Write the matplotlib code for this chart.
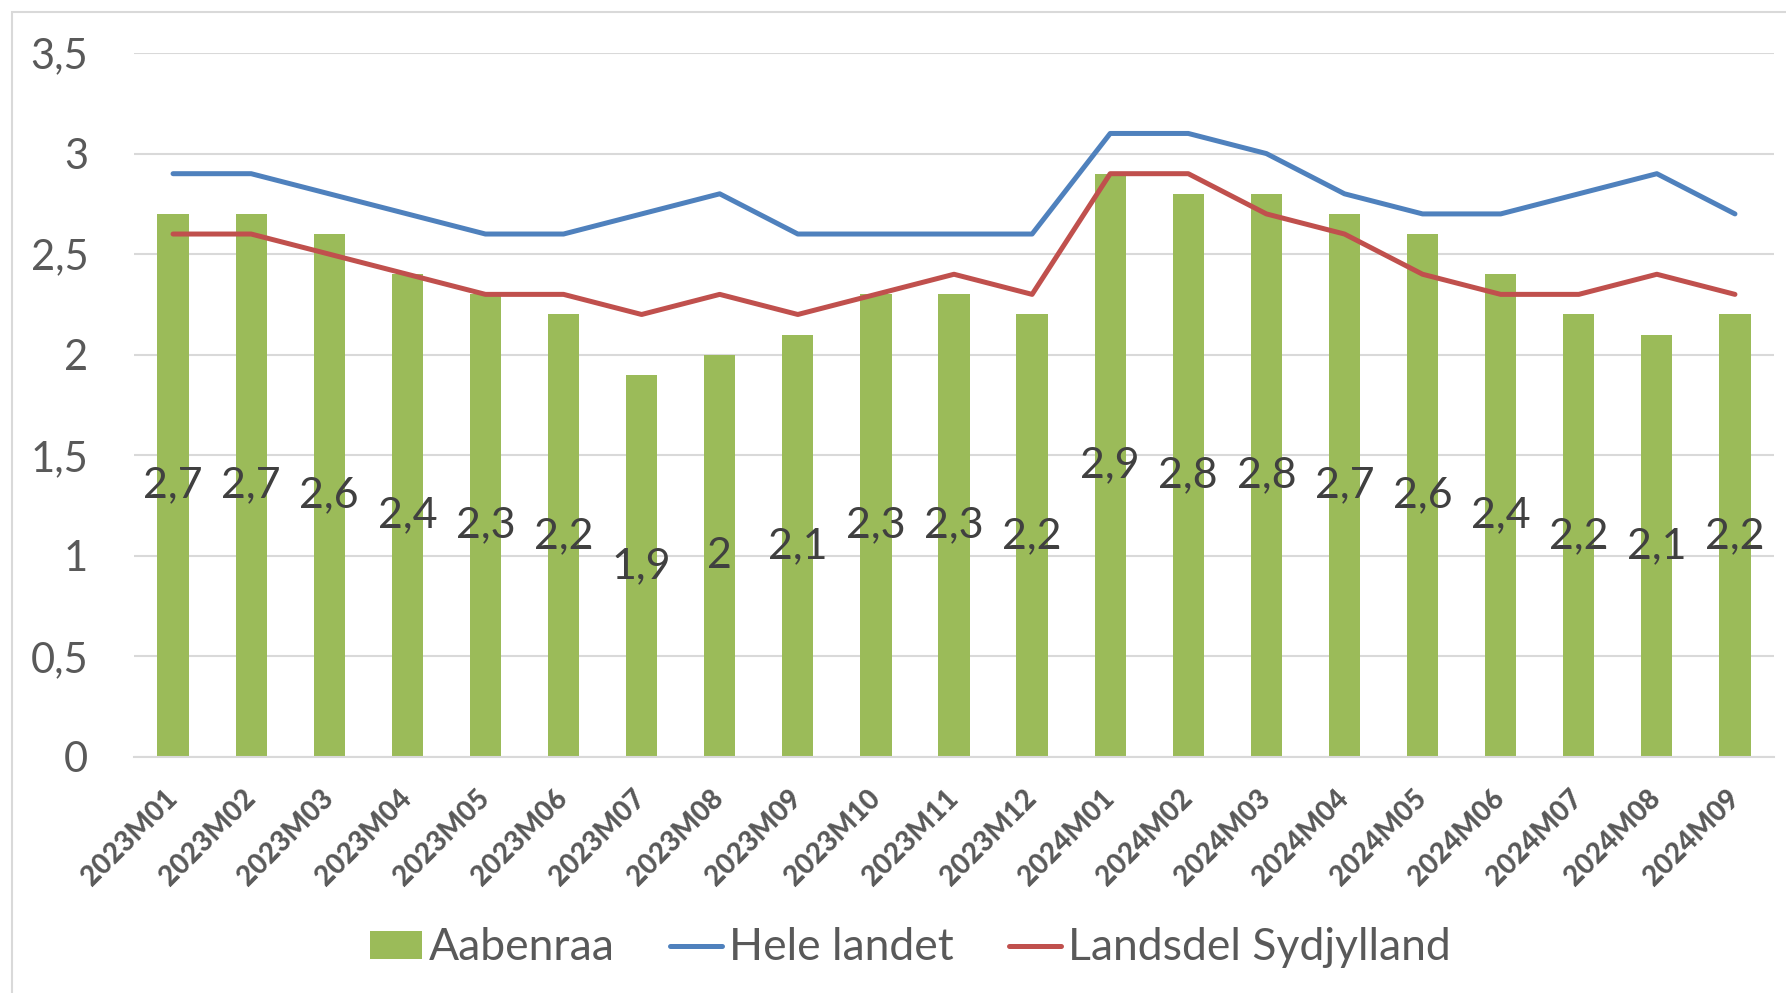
import matplotlib
matplotlib.use("Agg")
import matplotlib.pyplot as plt
from matplotlib.patches import Patch, Rectangle
from matplotlib.lines import Line2D
from matplotlib.ticker import FuncFormatter, MultipleLocator

categories = ["2023M01", "2023M02", "2023M03", "2023M04", "2023M05", "2023M06",
              "2023M07", "2023M08", "2023M09", "2023M10", "2023M11", "2023M12",
              "2024M01", "2024M02", "2024M03", "2024M04", "2024M05", "2024M06",
              "2024M07", "2024M08", "2024M09"]
aabenraa = [2.7, 2.7, 2.6, 2.4, 2.3, 2.2, 1.9, 2.0, 2.1, 2.3, 2.3, 2.2,
            2.9, 2.8, 2.8, 2.7, 2.6, 2.4, 2.2, 2.1, 2.2]
hele_landet = [2.9, 2.9, 2.8, 2.7, 2.6, 2.6, 2.7, 2.8, 2.6, 2.6, 2.6, 2.6,
               3.1, 3.1, 3.0, 2.8, 2.7, 2.7, 2.8, 2.9, 2.7]
sydjylland = [2.6, 2.6, 2.5, 2.4, 2.3, 2.3, 2.2, 2.3, 2.2, 2.3, 2.4, 2.3,
              2.9, 2.9, 2.7, 2.6, 2.4, 2.3, 2.3, 2.4, 2.3]
series_names = ["Aabenraa", "Hele landet", "Landsdel Sydjylland"]

GREEN = "#9BBB59"
BLUE = "#4F81BD"
RED = "#C0504D"
TXT = "#595959"
GRID = "#D9D9D9"

plt.rcParams["font.family"] = ["Lato", "DejaVu Sans"]

W, H = 1786, 993
fig = plt.figure(figsize=(W / 100, H / 100), dpi=100)
ax = fig.add_axes([134 / W, 1 - 757 / H, (1774 - 134) / W, (757 - 53) / H])

x = list(range(len(categories)))
ax.bar(x, aabenraa, width=0.4, color=GREEN, zorder=2)
ax.plot(x, hele_landet, color=BLUE, lw=3.6, solid_capstyle="round",
        solid_joinstyle="round", zorder=3)
ax.plot(x, sydjylland, color=RED, lw=3.6, solid_capstyle="round",
        solid_joinstyle="round", zorder=3)

def fmt(v):
    return f"{v:g}".replace(".", ",")

for xi, v in zip(x, aabenraa):
    ax.text(xi, v / 2, fmt(v), ha="center", va="center", fontsize=31,
            color="#404040", zorder=4)

ax.set_xlim(-0.5, len(categories) - 0.5)
ax.set_ylim(0, 3.5)
ax.yaxis.set_major_locator(MultipleLocator(0.5))
ax.yaxis.set_major_formatter(FuncFormatter(lambda v, p: fmt(round(v, 1))))
ax.grid(axis="y", color=GRID, lw=1.5, zorder=0)
ax.set_axisbelow(True)
for s in ["top", "right", "left"]:
    ax.spines[s].set_visible(False)
ax.spines["bottom"].set_color(GRID)
ax.spines["bottom"].set_linewidth(1.5)

ax.tick_params(axis="y", length=0, pad=33, labelsize=30, labelcolor=TXT)
ax.tick_params(axis="x", length=0, pad=27, labelcolor=TXT)
ax.set_xticks(x)
ax.set_xticklabels(categories, rotation=45, ha="right", va="center",
                   rotation_mode="anchor", fontsize=20, fontweight="black")

handles = [Patch(facecolor=GREEN, edgecolor="none"),
           Line2D([], [], color=BLUE, lw=3.6, solid_capstyle="round"),
           Line2D([], [], color=RED, lw=3.6, solid_capstyle="round")]
leg = fig.legend(handles, series_names, loc="center",
                 bbox_to_anchor=(910 / W, 1 - 948 / H), ncol=3, frameon=False,
                 fontsize=32, handlelength=1.17, handleheight=0.61,
                 handletextpad=0.16, columnspacing=1.24, labelcolor=TXT)

fig.patches.append(Rectangle((12 / W, -0.1), 1.2, 1 - 12 / H + 0.1,
                             transform=fig.transFigure, fill=False,
                             edgecolor=GRID, lw=1.5))

fig.savefig("out.png", dpi=100, facecolor="white")
